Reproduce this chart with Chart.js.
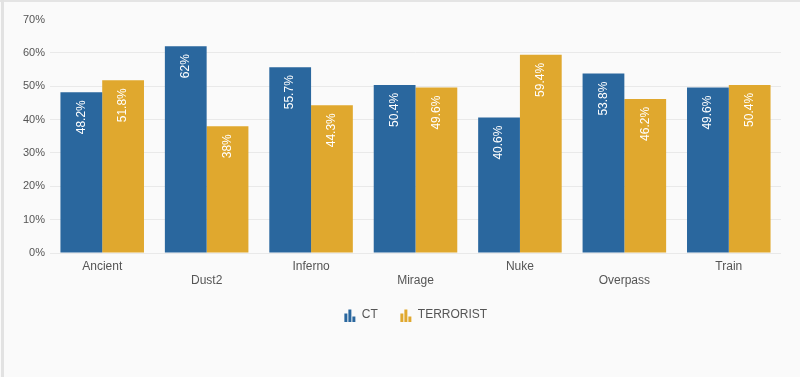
<!DOCTYPE html>
<html>
<head>
<meta charset="utf-8">
<script src="https://cdn.jsdelivr.net/npm/chart.js@4/dist/chart.umd.min.js"></script>
<style>
  html, body { margin: 0; padding: 0; background: #fafafa; }
  #wrap { width: 800px; height: 377px; position: relative; }
</style>
</head>
<body>
<div id="wrap"><canvas id="myChart"></canvas></div>
<script>
const maps = ['Ancient', 'Dust2', 'Inferno', 'Mirage', 'Nuke', 'Overpass', 'Train'];
const ctWinRate = [48.2, 62, 55.7, 50.4, 40.6, 53.8, 49.6];
const tWinRate = [51.8, 38, 44.3, 49.6, 59.4, 46.2, 50.4];
const yTicks = [0, 10, 20, 30, 40, 50, 60, 70];

const BLUE = '#2a679e';
const GOLD = '#e0a82e';
const FONT = "'Liberation Sans', Arial, sans-serif";

// small bar-chart glyph used as legend marker
function barIcon(color) {
  const c = document.createElement('canvas');
  c.width = 13;
  c.height = 13;
  const g = c.getContext('2d');
  g.fillStyle = color;
  g.fillRect(1, 5, 3, 8);
  g.fillRect(5, 1, 3, 12);
  g.fillRect(9, 8, 3, 5);
  return c;
}

const background = {
  id: 'background',
  beforeDraw(chart) {
    const { ctx, width, height } = chart;
    ctx.save();
    ctx.fillStyle = '#fafafa';
    ctx.fillRect(0, 0, width, height);
    ctx.fillStyle = '#e4e4e4';
    ctx.fillRect(0, 0, width, 2);
    ctx.fillStyle = '#e2e2e2';
    ctx.fillRect(1, 0, 3, height);
    ctx.restore();
  },
};

const barLabels = {
  id: 'barLabels',
  afterDatasetsDraw(chart) {
    const { ctx } = chart;
    ctx.save();
    ctx.font = '12px ' + FONT;
    ctx.fillStyle = '#ffffff';
    ctx.textAlign = 'right';
    ctx.textBaseline = 'middle';
    chart.data.datasets.forEach((ds, i) => {
      chart.getDatasetMeta(i).data.forEach((bar, j) => {
        ctx.save();
        ctx.translate(bar.x, bar.y + 8);
        ctx.rotate(-Math.PI / 2);
        ctx.fillText(ds.data[j] + '%', 0, 0);
        ctx.restore();
      });
    });
    ctx.restore();
  },
};

const ctx = document.getElementById('myChart');
new Chart(ctx, {
  type: 'bar',
  data: {
    labels: maps,
    datasets: [
      { label: 'CT', data: ctWinRate, backgroundColor: BLUE, pointStyle: barIcon(BLUE) },
      { label: 'TERRORIST', data: tWinRate, backgroundColor: GOLD, pointStyle: barIcon(GOLD) },
    ],
  },
  options: {
    responsive: true,
    maintainAspectRatio: false,
    animation: false,
    layout: { padding: { left: 0, right: 19, top: 19.5, bottom: 46 } },
    datasets: { bar: { categoryPercentage: 0.8, barPercentage: 1 } },
    scales: {
      x: {
        grid: { display: false, drawTicks: false },
        border: { display: false },
        ticks: {
          padding: 6,
          color: '#555',
          font: { family: FONT, size: 12 },
          maxRotation: 0,
          autoSkip: false,
          callback: (v, i) => (i % 2 ? ['', maps[i]] : [maps[i]]),
        },
        afterFit: (scale) => { scale.height = 34; },
      },
      y: {
        min: 0,
        max: 70,
        afterBuildTicks: (scale) => { scale.ticks = yTicks.map((v) => ({ value: v })); },
        grid: {
          drawTicks: false,
          color: (c) => (c.tick && c.tick.value === 70 ? 'rgba(0,0,0,0)' : '#e9e9e9'),
        },
        border: { display: false },
        ticks: {
          padding: 5,
          color: '#555',
          font: { family: FONT, size: 11 },
          callback: (v) => v + '%',
        },
        afterFit: (scale) => { scale.width = 50; },
      },
    },
    plugins: {
      legend: {
        position: 'bottom',
        fullSize: false,
        labels: {
          usePointStyle: true,
          padding: 22,
          color: '#555',
          font: { family: FONT, size: 12 },
        },
      },
      tooltip: { enabled: false },
    },
  },
  plugins: [background, barLabels],
});
</script>
</body>
</html>
